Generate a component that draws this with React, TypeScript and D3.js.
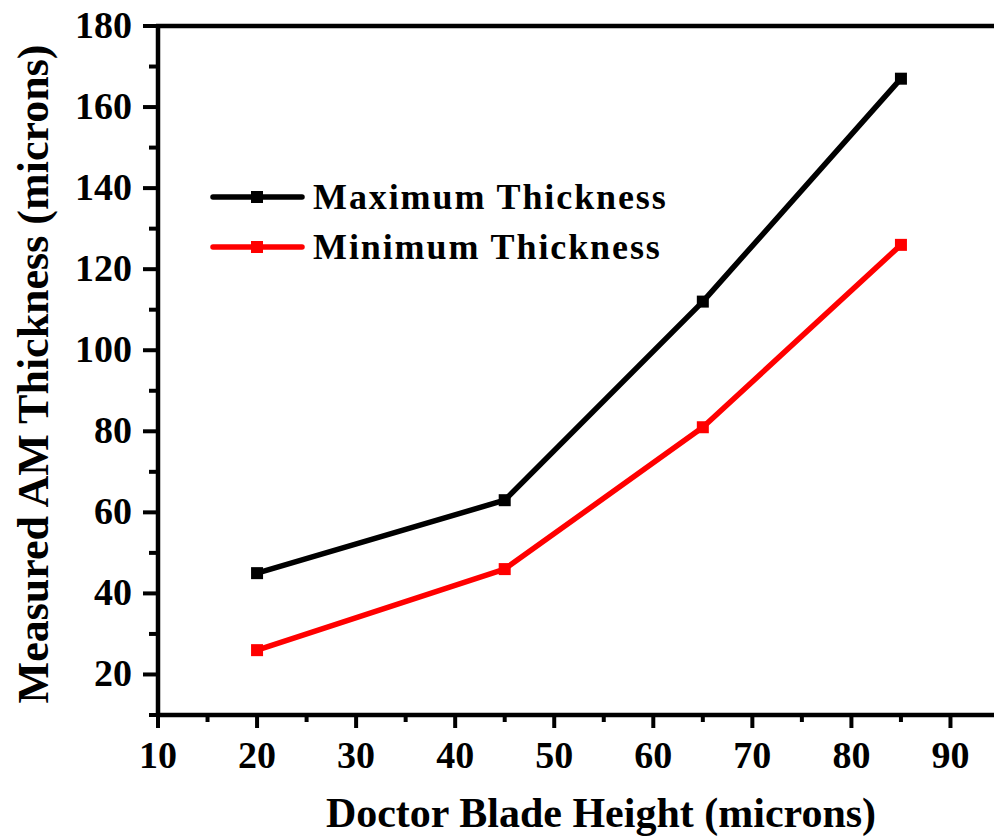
import React, { useEffect, useRef } from "react";
import * as d3 from "d3";

// blade heights (x) and measured thicknesses (y)
const bladeHeights = [20, 45, 65, 85];
const maxThickness = [45, 63, 112, 167];
const minThickness = [26, 46, 81, 126];

const xMajorTicks = [10, 20, 30, 40, 50, 60, 70, 80, 90];
const xMinorTicks = [15, 25, 35, 45, 55, 65, 75, 85, 95];
const yMajorTicks = [20, 40, 60, 80, 100, 120, 140, 160, 180];
const yMinorTicks = [10, 30, 50, 70, 90, 110, 130, 150, 170];

const seriesNames = ["Maximum Thickness", "Minimum Thickness"];
const seriesColors = ["#000000", "#ff0000"];

const width = 994;
const height = 837;
const font = "'Liberation Serif', 'Times New Roman', serif";

export default function App() {
  const ref = useRef<SVGSVGElement>(null);

  useEffect(() => {
    const svg = d3.select(ref.current);
    svg.selectAll("*").remove();

    const x = d3.scaleLinear().domain([10, 95]).range([158, 1000]);
    const y = d3.scaleLinear().domain([10, 180]).range([715, 26]);

    const g = svg.append("g");

    // frame: left axis, bottom axis, top line
    g.append("line")
      .attr("x1", x(10)).attr("x2", x(10))
      .attr("y1", y(180) - 2).attr("y2", y(10) + 2)
      .attr("stroke", "#000").attr("stroke-width", 4.5);
    g.append("line")
      .attr("x1", x(10) - 2).attr("x2", x(95))
      .attr("y1", y(10)).attr("y2", y(10))
      .attr("stroke", "#000").attr("stroke-width", 4.5);
    g.append("line")
      .attr("x1", x(10) - 2).attr("x2", x(95))
      .attr("y1", y(180)).attr("y2", y(180))
      .attr("stroke", "#000").attr("stroke-width", 4.5);

    // y ticks
    g.selectAll(".ymaj")
      .data(yMajorTicks)
      .join("line")
      .attr("x1", x(10)).attr("x2", x(10) - 15)
      .attr("y1", (d) => y(d)).attr("y2", (d) => y(d))
      .attr("stroke", "#000").attr("stroke-width", 4);
    g.selectAll(".ymin")
      .data(yMinorTicks)
      .join("line")
      .attr("x1", x(10)).attr("x2", x(10) - 9)
      .attr("y1", (d) => y(d)).attr("y2", (d) => y(d))
      .attr("stroke", "#000").attr("stroke-width", 4);
    g.selectAll(".ylab")
      .data(yMajorTicks)
      .join("text")
      .attr("x", 132)
      .attr("y", (d) => y(d) + 12)
      .attr("text-anchor", "end")
      .attr("font-family", font)
      .attr("font-weight", "bold")
      .attr("font-size", 38)
      .text((d) => d);

    // x ticks
    g.selectAll(".xmaj")
      .data(xMajorTicks)
      .join("line")
      .attr("x1", (d) => x(d)).attr("x2", (d) => x(d))
      .attr("y1", y(10)).attr("y2", y(10) + 13)
      .attr("stroke", "#000").attr("stroke-width", 4);
    g.selectAll(".xmin")
      .data(xMinorTicks)
      .join("line")
      .attr("x1", (d) => x(d)).attr("x2", (d) => x(d))
      .attr("y1", y(10)).attr("y2", y(10) + 7)
      .attr("stroke", "#000").attr("stroke-width", 4);
    g.selectAll(".xlab")
      .data(xMajorTicks)
      .join("text")
      .attr("x", (d) => x(d))
      .attr("y", 768)
      .attr("text-anchor", "middle")
      .attr("font-family", font)
      .attr("font-weight", "bold")
      .attr("font-size", 38)
      .text((d) => d);

    // axis titles
    g.append("text")
      .attr("x", 601)
      .attr("y", 827)
      .attr("text-anchor", "middle")
      .attr("font-family", font)
      .attr("font-weight", "bold")
      .attr("font-size", 42)
      .text("Doctor Blade Height (microns)");
    g.append("text")
      .attr("transform", "translate(48,374) rotate(-90)")
      .attr("text-anchor", "middle")
      .attr("font-family", font)
      .attr("font-weight", "bold")
      .attr("font-size", 44)
      .text("Measured AM Thickness (microns)");

    // series
    const series = [maxThickness, minThickness];
    const line = d3
      .line<number>()
      .x((_, i) => x(bladeHeights[i]))
      .y((d) => y(d));

    series.forEach((vals, s) => {
      g.append("path")
        .attr("d", line(vals))
        .attr("fill", "none")
        .attr("stroke", seriesColors[s])
        .attr("stroke-width", 5.5)
        .attr("stroke-linejoin", "round");
      g.selectAll(".m" + s)
        .data(vals)
        .join("rect")
        .attr("x", (_, i) => x(bladeHeights[i]) - 6)
        .attr("y", (d) => y(d) - 6)
        .attr("width", 12)
        .attr("height", 12)
        .attr("fill", seriesColors[s]);
    });

    // legend
    const legend = g
      .selectAll(".leg")
      .data(seriesNames)
      .join("g")
      .attr("transform", (_, i) => `translate(0,${197 + i * 50})`);
    legend
      .append("line")
      .attr("x1", 213).attr("x2", 302)
      .attr("y1", 0).attr("y2", 0)
      .attr("stroke", (_, i) => seriesColors[i])
      .attr("stroke-width", 5.5)
      .attr("stroke-linecap", "round");
    legend
      .append("rect")
      .attr("x", 251).attr("y", -6)
      .attr("width", 12).attr("height", 12)
      .attr("fill", (_, i) => seriesColors[i]);
    legend
      .append("text")
      .attr("x", 313)
      .attr("y", 12)
      .attr("font-family", font)
      .attr("font-weight", "bold")
      .attr("font-size", 36)
      .attr("letter-spacing", 1.9)
      .text((d) => d);
  }, []);

  return (
    <div style={{ position: "absolute", left: 0, top: 0 }}>
      <svg ref={ref} width={width} height={height} style={{ display: "block", background: "#fff" }} />
    </div>
  );
}
